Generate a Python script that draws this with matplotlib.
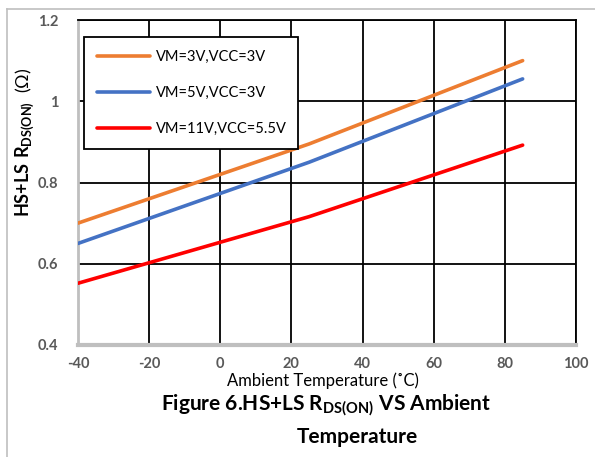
import numpy as np
import matplotlib
matplotlib.use("Agg")
import matplotlib.pyplot as plt
from matplotlib.lines import Line2D

plt.rcParams['font.family'] = ['Lato', 'DejaVu Sans']
plt.rcParams['mathtext.fontset'] = 'custom'
plt.rcParams['mathtext.rm'] = 'Lato'
plt.rcParams['mathtext.bf'] = 'Lato:bold'
plt.rcParams['axes.unicode_minus'] = False

# data
temp = [-40, 25, 85]
vm3_vcc3 = [0.70, 0.895, 1.10]
vm5_vcc3 = [0.65, 0.85, 1.055]
vm11_vcc55 = [0.552, 0.716, 0.892]
labels = ['VM=3V,VCC=3V', 'VM=5V,VCC=3V', 'VM=11V,VCC=5.5V']
colors = ['#ED7D31', '#4472C4', '#FF0000']
xticks = [-40, -20, 0, 20, 40, 60, 80, 100]
yticks = [0.4, 0.6, 0.8, 1.0, 1.2]
ytick_labels = ['0.4', '0.6', '0.8', '1', '1.2']

W, H = 595, 457
fig = plt.figure(figsize=(W / 100, H / 100), dpi=100)
ax = fig.add_axes([78 / W, 1 - 345 / H, (576 - 78) / W, (345 - 20) / H])

for y, lab, c in zip([vm3_vcc3, vm5_vcc3, vm11_vcc55], labels, colors):
    ax.plot(temp, y, color=c, lw=2.6, label=lab, solid_capstyle='round', zorder=3)

ax.set_xlim(-40, 100)
ax.set_ylim(0.4, 1.2)
ax.set_xticks(xticks)
ax.set_yticks(yticks)
ax.set_yticklabels(ytick_labels)
ax.grid(True, color='black', lw=1.3)
ax.tick_params(axis='x', length=0, labelsize=10.5, labelcolor='#595959', pad=9)
ax.tick_params(axis='y', length=0, labelsize=10.5, labelcolor='#595959', pad=14)
for t in ax.get_xticklabels() + ax.get_yticklabels():
    t.set_fontweight('bold')

for s in ['top', 'right']:
    ax.spines[s].set_color('black')
    ax.spines[s].set_linewidth(1.3)
ax.spines['left'].set_color('#bfbfbf')
ax.spines['left'].set_linewidth(2)
ax.spines['bottom'].set_color('#bfbfbf')
ax.spines['bottom'].set_linewidth(3)
ax.spines['bottom'].set_zorder(4)

leg = ax.legend(loc='upper left', bbox_to_anchor=(6 / 498, 1 - 17 / 325, 214 / 498, 0.0),
                mode='expand', fontsize=10.5, frameon=True, fancybox=False,
                edgecolor='black', framealpha=1, handlelength=3.6, handletextpad=0.45,
                labelspacing=1.5, borderpad=0.9, borderaxespad=0)
leg.get_frame().set_linewidth(1.3)

fig.text(25 / W, 1 - 142 / H, r"$\mathbf{HS{+}LS\ R_{DS(ON)}}$  (Ω)", rotation=90,
         ha='center', va='center', fontsize=13)
fig.text(323 / W, 1 - 381 / H, "Ambient Temperature (˚C)", ha='center', va='center', fontsize=12)
fig.text(326 / W, 1 - 405 / H, r"Figure 6.HS+LS R$_{\mathbf{DS(ON)}}$ VS Ambient",
         ha='center', va='center', fontsize=15, fontweight='bold')
fig.text(357 / W, 1 - 437 / H, "Temperature", ha='center', va='center',
         fontsize=15, fontweight='bold')

# outer frame
fig.add_artist(Line2D([7 / W, 7 / W], [0, 1 - 9 / H], color='#bfbfbf', lw=1.2))
fig.add_artist(Line2D([7 / W, 1], [1 - 9 / H, 1 - 9 / H], color='#bfbfbf', lw=1.2))

fig.savefig('out.png', dpi=100)
